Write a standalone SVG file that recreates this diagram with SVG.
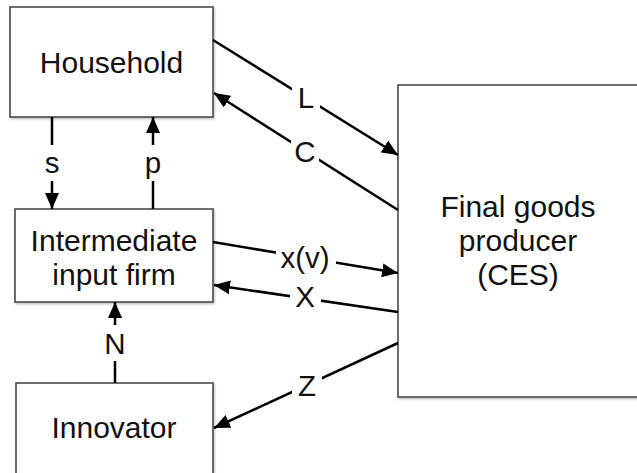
<svg xmlns="http://www.w3.org/2000/svg" width="637" height="473" viewBox="0 0 637 473">
<style>
.box{fill:#fff;stroke:#4a4a4a;stroke-width:1.6;filter:url(#sh)}
.t{font-family:"Liberation Sans",Arial,sans-serif;font-size:30px;fill:#111;text-anchor:middle}
.c{stroke:#000;stroke-width:2.5;fill:none}
.gap{fill:#fff;stroke:none}
.lb{font-family:"Liberation Sans",Arial,sans-serif;font-size:29.5px;fill:#111;text-anchor:middle}
</style>
<defs>
<filter id="sh" x="-10%" y="-10%" width="130%" height="130%">
<feDropShadow dx="1" dy="1.5" stdDeviation="1" flood-color="#000" flood-opacity="0.25"/>
</filter>
<marker id="ah" viewBox="0 0 16 14" refX="16" refY="7" markerWidth="16" markerHeight="14" markerUnits="userSpaceOnUse" orient="auto">
<path d="M0,0 L16,7 L0,14 z" fill="#000"/>
</marker>
</defs>
<rect width="637" height="473" fill="#fff"/>
<g id="household"><rect class="box" x="10" y="7" width="203" height="110"/><text class="t" x="111.5" y="73">Household</text></g>
<g id="intermediate"><rect class="box" x="15" y="209" width="198" height="93"/><text class="t" x="114" y="251">Intermediate</text><text class="t" x="114" y="285">input firm</text></g>
<g id="innovator"><rect class="box" x="16" y="383" width="197" height="100"/><text class="t" x="114" y="438">Innovator</text></g>
<g id="final"><rect class="box" x="398" y="85" width="250" height="312"/><text class="t" x="518" y="217">Final goods</text><text class="t" x="518" y="251">producer</text><text class="t" x="518" y="285">(CES)</text></g>
<g id="connectors">
<line class="c" x1="213" y1="40" x2="398" y2="155" marker-end="url(#ah)"/>
<line class="c" x1="398" y1="210" x2="214" y2="93" marker-end="url(#ah)"/>
<line class="c" x1="52" y1="117" x2="52" y2="209" marker-end="url(#ah)"/>
<line class="c" x1="153" y1="209" x2="153" y2="117" marker-end="url(#ah)"/>
<line class="c" x1="213" y1="242" x2="398" y2="273" marker-end="url(#ah)"/>
<line class="c" x1="398" y1="312" x2="214" y2="285" marker-end="url(#ah)"/>
<line class="c" x1="115" y1="383" x2="115" y2="302" marker-end="url(#ah)"/>
<line class="c" x1="398" y1="343" x2="214" y2="428" marker-end="url(#ah)"/>
<rect class="gap" x="292" y="86" width="28" height="22"/>
<rect class="gap" x="291" y="139" width="28" height="24"/>
<rect class="gap" x="44" y="145" width="16" height="36"/>
<rect class="gap" x="145" y="145" width="16" height="36"/>
<rect class="gap" x="276" y="249" width="60" height="24"/>
<rect class="gap" x="290" y="285" width="31" height="22"/>
<rect class="gap" x="107" y="325" width="16" height="36"/>
<rect class="gap" x="292" y="374" width="30" height="24"/>
<text class="lb" x="306" y="108">L</text>
<text class="lb" x="305" y="162">C</text>
<text class="lb" x="52" y="173">s</text>
<text class="lb" x="153" y="173">p</text>
<text class="lb" x="305" y="268">x(v)</text>
<text class="lb" x="305" y="307">X</text>
<text class="lb" x="115" y="354">N</text>
<text class="lb" x="307" y="396">Z</text>
</g>
</svg>
